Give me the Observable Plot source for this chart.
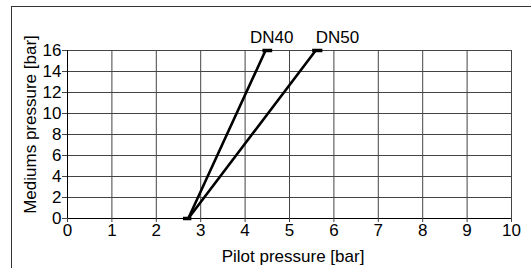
<!DOCTYPE html>
<html>
<head>
<meta charset="utf-8">
<script src="https://cdn.jsdelivr.net/npm/d3@7"></script>
<script src="https://cdn.jsdelivr.net/npm/@observablehq/plot@0.6"></script>
<style>
  html, body { margin: 0; padding: 0; background: #fff; }
  #wrap { position: relative; width: 531px; height: 268px; overflow: hidden; }
  #frame { position: absolute; left: 11px; top: 6px; width: 540px; height: 280px; border: 1.5px solid #333; box-sizing: border-box; }
  #chart { position: absolute; left: 0; top: 0; }
  svg { font-family: "Liberation Sans", Arial, Helvetica, sans-serif; }
</style>
</head>
<body>
<div id="wrap"><div id="frame"></div><div id="chart"></div></div>
<script>
// Data
const series = ["DN40", "DN50"];
const pilotAtZero = [2.72, 2.72];     // pilot pressure at medium pressure 0
const pilotAtMax = [4.46, 5.59];      // pilot pressure at medium pressure 16
const mediumMin = 0;
const mediumMax = 16;
// end markers (short thick bars)
const markerX1 = [2.6, 4.39, 5.51];
const markerX2 = [2.79, 4.61, 5.74];
const markerY = [0, 16, 16];
// label positions
const labelX = [4.6, 6.08];
const xTicks = [0, 1, 2, 3, 4, 5, 6, 7, 8, 9, 10];
const yTicks = [0, 2, 4, 6, 8, 10, 12, 14, 16];
const xTitle = "Pilot pressure [bar]";
const yTitle = "Mediums pressure [bar]";

const lines = series.flatMap((s, i) => [
  {series: s, pilot: pilotAtZero[i], medium: mediumMin},
  {series: s, pilot: pilotAtMax[i], medium: mediumMax}
]);
const markers = markerX1.map((x1, i) => ({x1, x2: markerX2[i], y: markerY[i]}));
const labels = series.map((s, i) => ({s, x: labelX[i], y: mediumMax}));

const plot = Plot.plot({
  width: 531,
  height: 268,
  marginLeft: 67,
  marginRight: 20,
  marginTop: 50,
  marginBottom: 50,
  style: {fontSize: "17px", fontFamily: "'Liberation Sans', Arial, sans-serif", background: "transparent", overflow: "visible"},
  x: {domain: [0, 10], ticks: xTicks},
  y: {domain: [0, 16], ticks: yTicks},
  marks: [
    Plot.ruleX(xTicks, {stroke: "#444", strokeWidth: 1}),
    Plot.ruleY(yTicks, {stroke: "#444", strokeWidth: 1}),
    Plot.ruleX([0], {stroke: "#000", strokeWidth: 1}),
    Plot.ruleY([0], {stroke: "#000", strokeWidth: 1}),
    Plot.axisX({ticks: xTicks, tickSize: 4, tickPadding: 1, label: null, fontSize: 17, stroke: "#444"}),
    Plot.axisY({ticks: yTicks, tickSize: 5, tickPadding: 1, label: null, fontSize: 17, stroke: "#444"}),
    Plot.line(lines, {x: "pilot", y: "medium", z: "series", stroke: "#000", strokeWidth: 2.6}),
    Plot.link(markers, {x1: "x1", x2: "x2", y1: "y", y2: "y", stroke: "#000", strokeWidth: 3.5}),
    Plot.text(labels, {x: "x", y: "y", text: "s", dy: -13, fontSize: 17, fill: "#000"}),
    Plot.text([yTitle], {x: -0.83, y: 8.95, text: d => d, rotate: -90, fontSize: 17, fill: "#000", clip: false}),
    Plot.text([xTitle], {x: 5.08, y: -3.6, text: d => d, fontSize: 17, fill: "#000", clip: false})
  ]
});
document.getElementById("chart").appendChild(plot);
</script>
</body>
</html>
